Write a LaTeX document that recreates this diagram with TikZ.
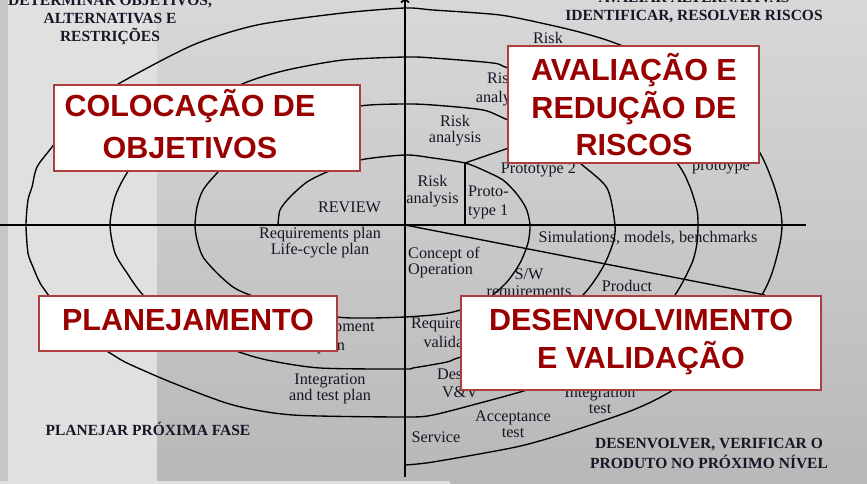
\documentclass[tikz,border=0pt]{standalone}
\usepackage{fontspec}
\setmainfont{Liberation Serif}
\newfontfamily\bigsans{Liberation Sans}
\usetikzlibrary{arrows.meta}
\definecolor{bigred}{RGB}{153,0,0}
\definecolor{boxline}{RGB}{172,62,62}
\definecolor{labcol}{RGB}{22,22,38}
\definecolor{bgtop}{RGB}{216,216,216}
\definecolor{bgbot}{RGB}{184,184,184}
\definecolor{band}{RGB}{224,224,224}
\definecolor{edge}{RGB}{198,198,198}
\tikzset{
  spiral/.style={line width=1.35pt, line join=round, black},
  axisline/.style={line width=1.7pt, black},
  lab/.style={inner sep=0pt, text=labcol, align=center, font=\fontsize{16.2}{17}\selectfont},
  quad/.style={inner sep=0pt, text=labcol, align=center, font=\bfseries\fontsize{15.5}{18}\selectfont},
  bigbox/.style={draw=boxline, line width=1.5pt, fill=white, inner sep=0pt},
  bigtext/.style={inner sep=0pt, text=bigred, align=center, font=\bigsans\bfseries\fontsize{30.5}{38}\selectfont}
}
\begin{document}
\begin{tikzpicture}[x=1pt,y=-1pt]
\useasboundingbox (0,0) rectangle (867,484);
% background
\fill[top color=bgtop, bottom color=bgbot] (0,0) rectangle (867,484);
\fill[edge] (0,0) rectangle (8,484);
\fill[band] (8,0) rectangle (157,484);
\fill[band] (0,481) rectangle (450,484);
% spiral
\draw[spiral] plot[smooth, tension=0.45] coordinates {
(278,225) (280,210) (290,197) (307,182) (327,172) (360,160) (405,155) (433,158) (465,163) (483,170) (503,180) (516,193) (526,208) (530,225) (528,243) (520,263) (506,283) (483,302) (453,312) (433,315) (405,317) (370,318) (337,317) (290,307) (250,295) (233,287) (217,273) (203,257) (197,240) (195,225) (197,207) (203,190) (218,172) (245,145) (295,120) (360,106) (405,104) (433,105) (483,110) (508,120) (550,136) (580,163) (607,188) (615,225) (613,243) (603,267) (583,295) (535,337) (461,357) (447,362) (413,368) (405,369) (320,368) (267,360) (233,350) (180,330) (143,295) (127,273) (115,253) (110,225) (115,197) (127,173) (155,135) (195,106) (247,82) (287,70) (343,60) (405,57) (433,58) (493,63) (508,68) (575,90) (635,120) (677,163) (690,187) (697,210) (698,225) (697,243) (692,263) (675,295) (640,338) (590,370) (527,390) (480,403) (433,415) (405,417) (293,415) (233,405) (173,383) (127,363) (110,353) (72,330) (49,296) (40,283) (33,267) (28,253) (26,225) (28,200) (32,187) (37,167) (52,147) (80,110) (120,83) (193,45) (257,25) (343,13) (405,8) (433,10) (500,15) (550,25) (583,33) (615,43) (675,68) (728,105) (760,153) (773,183) (780,207) (782,225) (780,243) (773,270) (763,293) (728,350) (673,390) (633,410) (566,433) (516,447) (433,462) (405,465)};
% axes and radial lines
\coordinate (O) at (405,225);
\coordinate (xl) at (0,225);
\coordinate (xr) at (806,225);
\coordinate (yb) at (405,477);
\coordinate (yt) at (405,-3);
\coordinate (j1) at (465,163);
\coordinate (j1b) at (465,225);
\coordinate (j2) at (535,139);
\coordinate (d1) at (765,295);
\draw[axisline] (xl) -- (xr);
\draw[axisline, -{To[length=6pt,width=9pt]}] (yb) -- (yt);
\draw[spiral] (j1) -- (j1b);
\draw[spiral] (j1) -- (j2);
\draw[spiral] (O) -- (d1);
% quadrant titles
\node[quad] (q1) at (110,20) {DETERMINAR OBJETIVOS,\\ALTERNATIVAS E\\RESTRIÇÕES};
\node[quad] (q2) at (694,8) {AVALIAR ALTERNATIVAS\\IDENTIFICAR, RESOLVER RISCOS};
\node[quad] (q3) at (148,428.5) {PLANEJAR PRÓXIMA FASE};
\node[quad, font=\bfseries\fontsize{15.5}{20}\selectfont] (q4) at (709,453) {DESENVOLVER, VERIFICAR O\\PRODUTO NO PRÓXIMO NÍVEL};
% spiral labels
\node[lab] (rev) at (349.5,207) {REVIEW};
\node[lab, font=\fontsize{16.2}{16}\selectfont] (rp) at (320,243) {Requirements plan\\Life-cycle plan};
\node[lab] (ra1) at (432.5,191.5) {Risk\\analysis};
\node[lab, font=\fontsize{16.2}{16}\selectfont] (ra2) at (455,130.5) {Risk\\analysis};
\node[lab, font=\fontsize{16.2}{19}\selectfont] (ra3) at (502,89.5) {Risk\\analysis};
\node[lab, font=\fontsize{16.2}{19}\selectfont] (ra4) at (548,49.5) {Risk\\analysis};
\node[lab, align=left, anchor=west, font=\fontsize{16.2}{19}\selectfont] (p1) at (468,202.5) {Proto-\\type 1};
\node[lab] (p2) at (538.5,170) {Prototype 2};
\node[lab] (p3) at (721,168) {protoype};
\node[lab] (sim) at (648,238) {Simulations, models, benchmarks};
\node[lab, align=left, anchor=west, font=\fontsize{16.2}{15.5}\selectfont] (cop) at (408,262.5) {Concept of\\Operation};
\node[lab] (swr) at (529,284) {S/W\\requirements};
\node[lab, font=\fontsize{16.2}{18}\selectfont] (pd) at (627,297) {Product\\design};
\node[lab, font=\fontsize{16.2}{19}\selectfont] (rv) at (456,332.5) {Requirements\\validation};
\node[lab, font=\fontsize{16.2}{19}\selectfont] (dp) at (331,337.5) {Development\\plan};
\node[lab, font=\fontsize{16.2}{18}\selectfont] (dv) at (460,383) {Design\\V\&V};
\node[lab, font=\fontsize{16.2}{16}\selectfont] (itp) at (330,389) {Integration\\and test plan};
\node[lab, font=\fontsize{16.2}{16}\selectfont] (it) at (600,400) {Integration\\test};
\node[lab, font=\fontsize{16.2}{16}\selectfont] (at) at (513,424) {Acceptance\\test};
\node[lab] (srv) at (436,437) {Service};
% big boxes
\node[bigbox, minimum width=306pt, minimum height=86pt] (colbox) at (207,128) {};
\node[bigtext, font=\bigsans\bfseries\fontsize{30.5}{42}\selectfont] (colt) at (190,124) {COLOCAÇÃO DE\\OBJETIVOS};
\node[bigbox, minimum width=251pt, minimum height=117pt] (avbox) at (633.5,104.5) {};
\node[bigtext, font=\bigsans\bfseries\fontsize{30.5}{37.5}\selectfont] (avt) at (634,105) {AVALIAÇÃO E\\REDUÇÃO DE\\RISCOS};
\node[bigbox, minimum width=298pt, minimum height=55pt] (plbox) at (188,323.5) {};
\node[bigtext] (plt) at (188,320) {PLANEJAMENTO};
\node[bigbox, minimum width=360pt, minimum height=94pt] (dvbox) at (641,343) {};
\node[bigtext] (dvt) at (641,342) {DESENVOLVIMENTO\\E VALIDAÇÃO};
\end{tikzpicture}
\end{document}
